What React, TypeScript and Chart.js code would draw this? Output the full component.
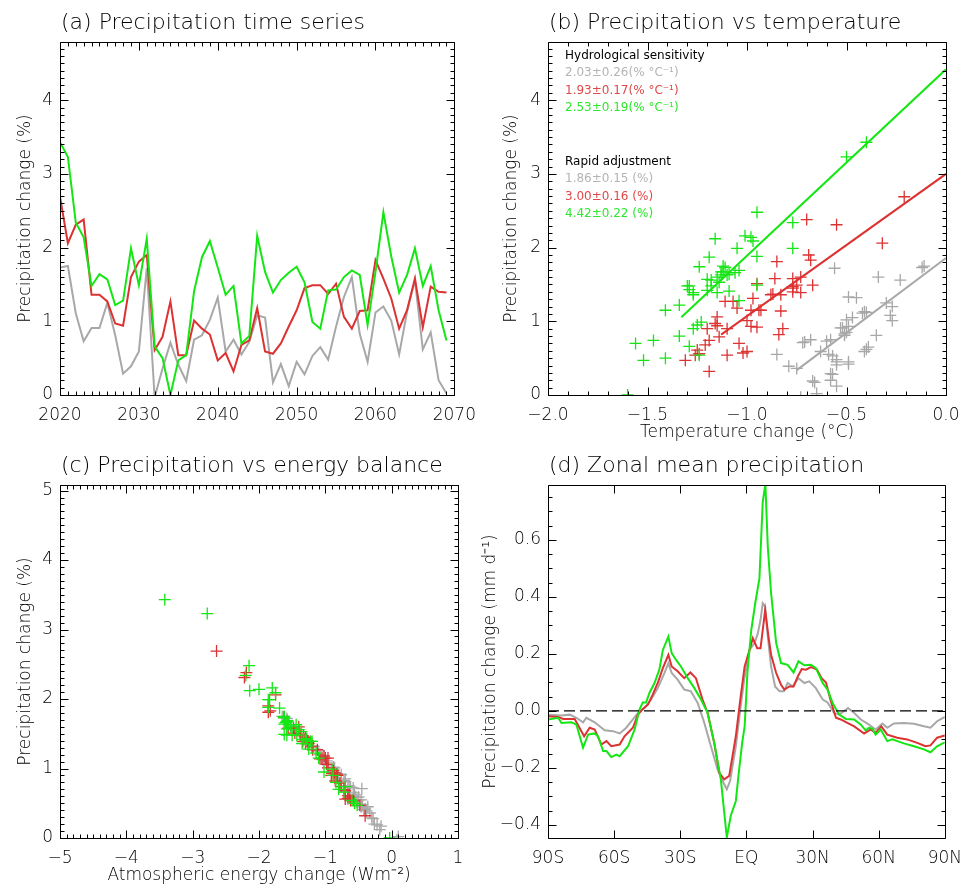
import React, { useEffect, useRef } from 'react';
import { Chart, registerables } from 'chart.js';
Chart.register(...registerables);

const FONT = "'DejaVu Sans', 'Liberation Sans', sans-serif";
const FW = '200';
const GREEN = '#14e614';
const RED = '#dc3232';
const GRAY = '#a8a8a8';
const TXT_GRAY = '#b4b4b4';
const TXT_RED = '#e04848';
const TXT_GREEN = '#2ee82e';

// ---------- (a) time series ----------
const years = [
  2020, 2021, 2022, 2023, 2024, 2025, 2026, 2027, 2028, 2029,
  2030, 2031, 2032, 2033, 2034, 2035, 2036, 2037, 2038, 2039,
  2040, 2041, 2042, 2043, 2044, 2045, 2046, 2047, 2048, 2049,
  2050, 2051, 2052, 2053, 2054, 2055, 2056, 2057, 2058, 2059,
  2060, 2061, 2062, 2063, 2064, 2065, 2066, 2067, 2068, 2069,
];
const precipGray = [
  1.73, 1.75, 1.11, 0.73, 0.91, 0.91, 1.25, 0.81, 0.29, 0.39,
  0.59, 1.72, -0.03, 0.36, 0.71, 0.41, 0.19, 0.75, 0.81, 1.02,
  1.32, 0.59, 0.75, 0.55, 0.72, 1.08, 1.05, 0.17, 0.42, 0.12,
  0.45, 0.28, 0.53, 0.65, 0.48, 0.93, 1.33, 1.6, 0.83, 0.45,
  1.12, 1.2, 1.01, 0.55, 1.13, 1.56, 0.62, 0.85, 0.2, 0.02,
];
const precipRed = [
  2.69, 2.06, 2.31, 2.38, 1.36, 1.36, 1.27, 0.97, 0.94, 1.6,
  1.81, 1.9, 0.61, 0.79, 1.27, 0.54, 0.54, 1.01, 0.9, 0.82,
  0.47, 0.57, 0.32, 0.68, 0.74, 1.18, 0.59, 0.56, 0.7, 0.93,
  1.15, 1.45, 1.49, 1.49, 1.37, 1.51, 1.06, 0.9, 1.14, 1.15,
  1.83, 1.58, 1.31, 0.9, 1.15, 1.58, 0.92, 1.47, 1.4, 1.39,
];
const precipGreen = [
  3.43, 3.23, 2.34, 2.14, 1.48, 1.64, 1.57, 1.22, 1.28, 1.99,
  1.49, 2.12, 0.66, 0.5, 0.0, 0.47, 0.54, 1.41, 1.87, 2.09,
  1.73, 1.36, 1.48, 0.7, 0.8, 2.16, 1.67, 1.39, 1.56, 1.66,
  1.74, 1.53, 0.99, 0.9, 1.42, 1.43, 1.6, 1.69, 1.63, 0.95,
  1.67, 2.48, 1.88, 1.39, 1.63, 1.99, 1.48, 1.75, 1.15, 0.74,
];

// ---------- (b) temperature change per year ----------
const tempGray = [
  -0.12, -0.11, -0.42, -0.6, -0.53, -0.52, -0.3, -0.51, -0.58, -0.79,
  -0.41, -0.56, -0.73, -0.75, -0.72, -0.55, -0.67, -0.68, -0.35, -0.5,
  -0.45, -0.63, -0.58, -0.85, -0.71, -0.28, -0.47, -0.66, -0.49, -0.55,
  -0.55, -0.57, -0.57, -0.39, -0.55, -0.49, -0.49, -0.34, -0.51, -0.49,
  -0.4, -0.27, -0.27, -0.59, -0.41, -0.23, -0.4, -0.5, -0.58, -0.65,
];
const tempRed = [
  -0.21, -0.32, -0.55, -0.7, -0.83, -0.88, -1.11, -1.16, -1.15, -0.73,
  -0.85, -0.69, -1.25, -1.14, -1.07, -1.26, -1.1, -1.0, -1.2, -0.84,
  -1.31, -1.02, -1.19, -1.21, -1.19, -1.05, -1.0, -1.24, -1.04, -0.98,
  -0.93, -0.77, -0.75, -0.67, -0.87, -0.95, -1.15, -1.1, -0.83, -0.94,
  -0.68, -0.86, -0.97, -0.82, -0.98, -0.77, -0.95, -0.77, -0.77, -0.73,
];
const tempGreen = [
  -0.4, -0.5, -0.77, -0.98, -1.29, -1.09, -1.2, -1.34, -1.04, -1.05,
  -0.95, -1.16, -1.29, -1.41, -1.6, -1.52, -1.24, -1.09, -1.19, -0.97,
  -1.11, -1.27, -1.18, -1.56, -1.34, -1.01, -1.13, -1.15, -1.18, -1.06,
  -1.24, -1.14, -1.23, -1.27, -1.2, -1.29, -1.15, -1.04, -1.1, -1.25,
  -1.12, -0.95, -0.95, -1.27, -1.13, -0.77, -1.3, -1.12, -1.41, -1.47,
];
// regression results (gray, red, green)
const hydroSens = [2.03, 1.93, 2.53];
const hydroSensErr = [0.26, 0.17, 0.19];
const rapidAdj = [1.86, 3.0, 4.42];
const rapidAdjErr = [0.15, 0.16, 0.22];
const fitStartTemp = [-0.75, -1.13, -1.33];

// ---------- (c) atmospheric energy change per year ----------
const energyGray = [
  -1.62, -1.65, -0.98, -0.62, -0.8, -0.76, -1.1, -0.7, -0.3, -0.38,
  -0.5, -1.58, 0.08, -0.33, -0.45, -0.42, -0.22, -0.66, -0.76, -0.88,
  -1.18, -0.54, -0.64, -0.46, -0.58, -0.98, -0.95, -0.16, -0.4, -0.18,
  -0.36, -0.28, -0.52, -0.57, -0.44, -0.82, -1.2, -1.52, -0.72, -0.46,
  -1.02, -1.08, -0.86, -0.5, -1.04, -1.46, -0.56, -0.7, -0.26, 0.1,
];
const energyRed = [
  -2.64, -1.75, -2.22, -2.19, -1.25, -1.3, -1.19, -0.88, -0.86, -1.4,
  -1.86, -1.86, -0.66, -0.78, -1.12, -0.62, -0.58, -0.96, -0.82, -0.85,
  -0.48, -0.66, -0.4, -0.7, -0.76, -1.02, -0.64, -0.7, -0.72, -0.9,
  -1.0, -1.3, -1.37, -1.38, -1.26, -1.46, -0.98, -0.87, -1.08, -1.05,
  -1.83, -1.48, -1.2, -0.91, -0.96, -1.56, -0.83, -1.33, -1.27, -1.34,
];
const energyGreen = [
  -3.42, -2.78, -2.2, -2.0, -1.5, -1.62, -1.58, -1.14, -1.25, -1.84,
  -1.62, -2.14, -0.72, -0.56, -0.03, -0.52, -0.6, -1.3, -1.69, -1.75,
  -1.62, -1.35, -1.43, -0.8, -0.84, -1.8, -1.56, -1.22, -1.4, -1.6,
  -1.63, -1.36, -0.9, -0.88, -1.33, -1.28, -1.52, -1.57, -1.55, -1.02,
  -1.59, -2.15, -1.86, -1.2, -1.44, -1.86, -1.58, -1.62, -1.1, -0.7,
];

// ---------- (d) zonal mean ----------
const latGreen = [
  -90, -85.4, -83.9, -79.4, -77.1, -74.1, -71.8, -68.8, -67.3, -65, -63.5, -61.3, -59, -57.5,
  -53.7, -50.7, -48.5, -47, -45.5, -44, -41.7, -39.5, -37.9, -35.4, -33.9, -31.9, -29.7,
  -26.6, -23.6, -20.6, -17.6, -14.6, -11.6, -8.9, -7.1, -4.8, -3.5, -1.9, -0.8, 0.5, 2.2,
  4.0, 5.9, 7.4, 8.6, 9.7, 11.2, 13.5, 15.7, 18.7, 21.4, 23.6, 26.3, 29.3, 31.5, 34.6,
  36.8, 39.1, 42.1, 45.1, 48.9, 51.9, 54.1, 55.6, 57.1, 58.6, 60.9, 63.9, 66.2, 71.4, 76,
  80.5, 83.5, 86.5, 90,
];
const zonalGreen = [
  -0.03, -0.024, -0.042, -0.04, -0.048, -0.129, -0.083, -0.079, -0.089, -0.141, -0.141, -0.162, -0.153, -0.159,
  -0.124, -0.065, 0.005, 0.03, 0.03, 0.063, 0.098, 0.145, 0.214, 0.261, 0.203, 0.179, 0.156,
  0.115, 0.08, 0.04, -0.007, -0.112, -0.24, -0.444, -0.368, -0.316, -0.22, -0.11, -0.054, 0.14, 0.284,
  0.378, 0.465, 0.733, 0.797, 0.576, 0.413, 0.238, 0.168, 0.162, 0.135, 0.174, 0.16, 0.162, 0.15, 0.098,
  0.075, 0.028, -0.013, -0.028, -0.03, -0.048, -0.068, -0.059, -0.062, -0.083, -0.065, -0.106, -0.1, -0.114, -0.124,
  -0.135, -0.145, -0.124, -0.11,
];
const latRed = [
  -90, -85.4, -83.1, -77.9, -73.6, -71.1, -68.8, -65.8, -63.5, -61.3, -57.5, -55.3, -51.5,
  -49.2, -47, -44.7, -42.5, -40.2, -37.9, -35.4, -33.9, -31.2, -28.2, -25.4, -22.9, -19.9,
  -17.6, -14.6, -12.3, -10.1, -7.8, -4.8, -2.6, -0.8, 0.5, 1.4, 2.9, 4.9, 6.4, 8.5, 10,
  11.2, 13.5, 15.7, 17.2, 19.5, 21.4, 23.3, 25.1, 27, 29.3, 32, 34.1, 36.1, 38.3, 40.6,
  42.8, 45.8, 48.9, 53.4, 56.4, 58.6, 61.2, 63.9, 68.4, 72.9, 77.5, 81.2, 83.5, 86.5, 90,
];
const zonalRed = [
  -0.019, -0.021, -0.028, -0.028, -0.089, -0.059, -0.065, -0.118, -0.106, -0.124, -0.118, -0.089, -0.059,
  -0.013, 0.007, 0.022, 0.057, 0.098, 0.15, 0.197, 0.156, 0.139, 0.115, 0.135, 0.115, 0.04,
  -0.007, -0.112, -0.217, -0.24, -0.228, -0.089, 0.051, 0.156, 0.19, 0.214, 0.255, 0.22, 0.22, 0.354, 0.261,
  0.197, 0.133, 0.092, 0.075, 0.086, 0.086, 0.121, 0.147, 0.145, 0.154, 0.145, 0.115, 0.1, 0.034, -0.024,
  -0.03, -0.042, -0.054, -0.079, -0.065, -0.077, -0.054, -0.083, -0.094, -0.1, -0.112, -0.124, -0.121, -0.094, -0.086,
];
const latGray = [
  -90, -83.9, -80.1, -77.1, -74.1, -72.6, -68.8, -64.3, -60.5, -57.5, -54.5, -51.5, -49.2,
  -46.2, -43.2, -40.2, -37.2, -35.4, -33.9, -31.2, -28.2, -25.2, -22.1, -19.1, -16.1, -13.1,
  -10.8, -8.9, -7.4, -4.8, -2.6, -1.0, 1.4, 3.7, 5.2, 6.4, 7.4, 8.5, 9.7, 11.2, 13, 15, 17,
  18.7, 21, 23.6, 26.3, 28.5, 31.5, 34.6, 36.8, 39.8, 42.1, 44.3, 46.1, 48.9, 51.9, 55.6,
  58.6, 61.7, 63.9, 66.9, 71.4, 76, 80.5, 83.5, 86.5, 90,
];
const zonalGray = [
  -0.013, -0.016, -0.013, -0.024, -0.04, -0.024, -0.04, -0.068, -0.071, -0.079, -0.059, -0.03, -0.007,
  0.01, 0.04, 0.08, 0.133, 0.168, 0.133, 0.11, 0.075, 0.069, 0.028, -0.042, -0.124, -0.205,
  -0.246, -0.275, -0.246, -0.124, 0.016, 0.11, 0.214, 0.238, 0.273, 0.319, 0.378, 0.366, 0.261, 0.156, 0.086, 0.069, 0.069,
  0.098, 0.086, 0.115, 0.098, 0.104, 0.08, 0.04, 0.03, -0.007, -0.013, 0.0, 0.01, -0.007, -0.03, -0.048,
  -0.065, -0.044, -0.059, -0.044, -0.042, -0.045, -0.054, -0.059, -0.036, -0.021,
];
const latTicks = [-90, -60, -30, 0, 30, 60, 90];
const latLabels = ['90S', '60S', '30S', 'EQ', '30N', '60N', '90N'];

// ---------- helpers ----------
const minus = (s: string) => s.replace('-', '\u2212');
function steps(from: number, to: number, step: number): number[] {
  const out: number[] = [];
  const n = Math.round((to - from) / step);
  for (let i = 0; i <= n; i++) out.push(+(from + i * step).toFixed(6));
  return out;
}
const pts = (xs: number[], ys: number[]) => xs.map((x, i) => ({ x, y: ys[i] }));

const framePlugin = {
  id: 'idlFrame',
  afterDatasetsDraw(chart: any, _args: any, opts: any) {
    const { ctx, chartArea: a, scales } = chart;
    const xs = scales.x, ys = scales.y;
    const snap = (v: number) => Math.round(v) + 0.5;
    const L = snap(a.left), R = snap(a.right), T = snap(a.top), B = snap(a.bottom);
    ctx.save();
    ctx.strokeStyle = '#000';
    ctx.lineWidth = 1;
    ctx.beginPath();
    const doX = (vals: number[], len: number) =>
      vals.forEach((v) => {
        const p = snap(xs.getPixelForValue(v));
        if (p < L - 0.1 || p > R + 0.1) return;
        ctx.moveTo(p, B); ctx.lineTo(p, B - len);
        ctx.moveTo(p, T); ctx.lineTo(p, T + len);
      });
    const doY = (vals: number[], len: number) =>
      vals.forEach((v) => {
        const p = snap(ys.getPixelForValue(v));
        if (p < T - 0.1 || p > B + 0.1) return;
        ctx.moveTo(L, p); ctx.lineTo(L + len, p);
        ctx.moveTo(R, p); ctx.lineTo(R - len, p);
      });
    doX(opts.xMajor || [], 8);
    doX(opts.xMinor || [], 4);
    doY(opts.yMajor || [], 8);
    doY(opts.yMinor || [], 4);
    ctx.moveTo(L, T); ctx.lineTo(R, T); ctx.lineTo(R, B); ctx.lineTo(L, B); ctx.closePath();
    ctx.stroke();
    (opts.texts || []).forEach((t: any) => {
      ctx.font = t.font;
      ctx.fillStyle = t.color;
      ctx.textAlign = 'left';
      ctx.textBaseline = 'middle';
      ctx.fillText(t.text, a.left + t.dx, t.y);
    });
    ctx.restore();
  },
};

function makeAxis(o: {
  min: number; max: number; ticks: number[]; labels: (v: number, i: number) => string;
  horizontal: boolean; size: number; labelPad: number; title?: string; titlePad?: number;
}) {
  return {
    type: 'linear',
    min: o.min,
    max: o.max,
    grid: { display: false, drawTicks: false },
    border: { display: false },
    afterBuildTicks: (s: any) => { s.ticks = o.ticks.map((v) => ({ value: v })); },
    afterFit: (s: any) => { if (o.horizontal) s.height = o.size; else s.width = o.size; },
    ticks: {
      autoSkip: false, maxRotation: 0, minRotation: 0,
      padding: o.labelPad, color: '#000',
      font: { family: FONT, size: 17, weight: FW },
      callback: (v: any, i: number) => o.labels(Number(v), i),
    },
    title: o.title
      ? { display: true, text: o.title, color: '#000', font: { family: FONT, size: 17, weight: FW }, padding: { top: o.titlePad ?? 0, bottom: o.titlePad ?? 0 } }
      : { display: false },
  };
}

const titleText = (text: string) => ({ text, dx: 1, y: 23, color: '#000', font: `${FW} 22px ${FONT}` });

function baseOptions(padRight: number, scales: any, frame: any) {
  return {
    responsive: false,
    animation: false,
    devicePixelRatio: 1,
    events: [],
    layout: { padding: { left: 0, top: 42, right: padRight, bottom: 0 } },
    plugins: { legend: { display: false }, tooltip: { enabled: false }, title: { display: false }, idlFrame: frame },
    scales,
  };
}

const lineDs = (data: any[], color: string, width = 2) => ({
  data, showLine: true, borderColor: color, borderWidth: width, pointRadius: 0, tension: 0, clip: 0,
});
const crossDs = (data: any[], color: string) => ({
  data, showLine: false, pointStyle: 'cross', pointRadius: 6, pointBorderColor: color, pointBackgroundColor: color,
  pointBorderWidth: 1.3, borderColor: color, clip: 0,
});

const precipTicks = [0, 1, 2, 3, 4];

function makeA() {
  return {
    type: 'scatter',
    data: {
      datasets: [
        lineDs(pts(years, precipGreen), GREEN),
        lineDs(pts(years, precipRed), RED),
        lineDs(pts(years, precipGray), GRAY),
      ],
    },
    options: baseOptions(28, {
      x: makeAxis({ min: 2020, max: 2070, ticks: [2020, 2030, 2040, 2050, 2060, 2070], labels: (v) => String(v), horizontal: true, size: 48, labelPad: 10 }),
      y: makeAxis({ min: 0, max: 4.79, ticks: precipTicks, labels: (v) => String(v), horizontal: false, size: 60, labelPad: 7, title: 'Precipitation change (%)', titlePad: 15 }),
    }, {
      xMajor: steps(2020, 2070, 10), xMinor: steps(2020, 2070, 1),
      yMajor: precipTicks, yMinor: steps(0, 4.7, 0.1),
      texts: [titleText('(a) Precipitation time series')],
    }),
    plugins: [framePlugin],
  };
}

function makeB() {
  const colors = [GRAY, RED, GREEN];
  const txtColors = [TXT_GRAY, TXT_RED, TXT_GREEN];
  const fits = [0, 1, 2].map((i) =>
    lineDs([
      { x: fitStartTemp[i], y: rapidAdj[i] + hydroSens[i] * fitStartTemp[i] },
      { x: 0, y: rapidAdj[i] },
    ], colors[i]));
  const lf = `12px ${FONT}`;
  const sensY = [72.7, 90.7, 108.3];
  const rapidY = [179.3, 197, 214.3];
  const texts: any[] = [titleText('(b) Precipitation vs temperature'),
    { text: 'Hydrological sensitivity', dx: 17, y: 55.6, color: '#000', font: lf },
    { text: 'Rapid adjustment', dx: 17, y: 161.7, color: '#000', font: lf }];
  [0, 1, 2].forEach((i) => {
    texts.push({ text: `${hydroSens[i].toFixed(2)}\u00b1${hydroSensErr[i].toFixed(2)}(% \u00b0C\u207b\u00b9)`, dx: 17, y: sensY[i], color: txtColors[i], font: lf });
    texts.push({ text: `${rapidAdj[i].toFixed(2)}\u00b1${rapidAdjErr[i].toFixed(2)} (%)`, dx: 17, y: rapidY[i], color: txtColors[i], font: lf });
  });
  return {
    type: 'scatter',
    data: {
      datasets: [
        fits[2], fits[1], fits[0],
        crossDs(pts(tempGreen, precipGreen), GREEN),
        crossDs(pts(tempRed, precipRed), RED),
        crossDs(pts(tempGray, precipGray), GRAY),
      ],
    },
    options: baseOptions(26, {
      x: makeAxis({ min: -2, max: 0, ticks: [-2, -1.5, -1, -0.5, 0], labels: (v) => minus(v.toFixed(1)), horizontal: true, size: 48, labelPad: 10, title: 'Temperature change (\u00b0C)', titlePad: 0 }),
      y: makeAxis({ min: 0, max: 4.79, ticks: precipTicks, labels: (v) => String(v), horizontal: false, size: 62, labelPad: 7, title: 'Precipitation change (%)', titlePad: 15 }),
    }, {
      xMajor: [-2, -1.5, -1, -0.5, 0], xMinor: steps(-2, 0, 0.1),
      yMajor: precipTicks, yMinor: steps(0, 4.7, 0.1),
      texts,
    }),
    plugins: [framePlugin],
  };
}

function makeC() {
  const xt = [-5, -4, -3, -2, -1, 0, 1];
  const yt = [0, 1, 2, 3, 4, 5];
  return {
    type: 'scatter',
    data: {
      datasets: [
        crossDs(pts(energyGreen, precipGreen), GREEN),
        crossDs(pts(energyRed, precipRed), RED),
        crossDs(pts(energyGray, precipGray), GRAY),
      ],
    },
    options: baseOptions(28, {
      x: makeAxis({ min: -5, max: 1, ticks: xt, labels: (v) => minus(String(v)), horizontal: true, size: 48, labelPad: 10, title: 'Atmospheric energy change (Wm\u207b\u00b2)', titlePad: 0 }),
      y: makeAxis({ min: 0, max: 5.08, ticks: yt, labels: (v) => String(v), horizontal: false, size: 60, labelPad: 7, title: 'Precipitation change (%)', titlePad: 15 }),
    }, {
      xMajor: xt, xMinor: steps(-5, 1, 0.1),
      yMajor: yt, yMinor: steps(0, 5, 0.1),
      texts: [titleText('(c) Precipitation vs energy balance')],
    }),
    plugins: [framePlugin],
  };
}

function makeD() {
  const yt = [-0.4, -0.2, 0, 0.2, 0.4, 0.6];
  return {
    type: 'scatter',
    data: {
      datasets: [
        { ...lineDs([{ x: -90, y: 0 }, { x: 90, y: 0 }], '#000', 1.3), borderDash: [11, 5] },
        lineDs(pts(latGreen, zonalGreen), GREEN),
        lineDs(pts(latRed, zonalRed), RED),
        lineDs(pts(latGray, zonalGray), GRAY),
      ],
    },
    options: baseOptions(26, {
      x: makeAxis({ min: -90, max: 90, ticks: latTicks, labels: (_v, i) => latLabels[i], horizontal: true, size: 48, labelPad: 10 }),
      y: makeAxis({ min: -0.446, max: 0.793, ticks: yt, labels: (v) => minus(v.toFixed(1)), horizontal: false, size: 72, labelPad: 7, title: 'Precipitation change (mm d\u207b\u00b9)', titlePad: 4 }),
    }, {
      xMajor: latTicks, xMinor: [],
      yMajor: yt, yMinor: steps(-0.4, 0.75, 0.05),
      texts: [titleText('(d) Zonal mean precipitation')],
    }),
    plugins: [framePlugin],
  };
}

function ChartBox(props: { left: number; top: number; width: number; height: number; make: () => any }) {
  const ref = useRef<HTMLCanvasElement>(null);
  useEffect(() => {
    const chart = new Chart(ref.current as HTMLCanvasElement, props.make());
    return () => chart.destroy();
  }, []);
  return (
    <canvas
      ref={ref}
      width={props.width}
      height={props.height}
      style={{ position: 'absolute', left: props.left, top: props.top, width: props.width, height: props.height }}
    />
  );
}

export default function App() {
  return (
    <div style={{ position: 'absolute', left: 0, top: 0, width: 972, height: 886, background: '#fff', overflow: 'hidden' }}>
      <ChartBox left={0} top={0} width={486} height={443} make={makeA} />
      <ChartBox left={486} top={0} width={486} height={443} make={makeB} />
      <ChartBox left={0} top={443} width={486} height={443} make={makeC} />
      <ChartBox left={476} top={443} width={496} height={443} make={makeD} />
    </div>
  );
}
